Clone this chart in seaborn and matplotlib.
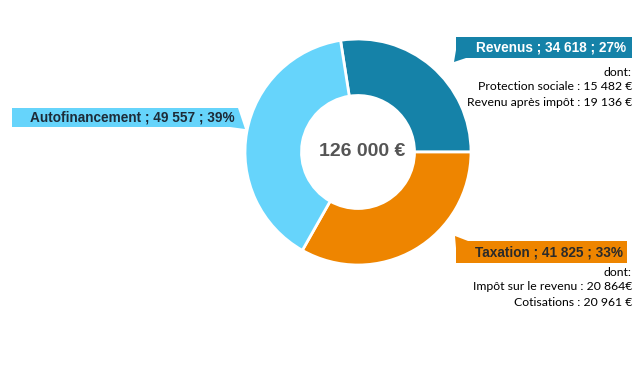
import matplotlib
matplotlib.use("Agg")
import matplotlib.pyplot as plt
import seaborn as sns
from matplotlib.patches import Rectangle, Polygon

sns.set_theme(style="white")
plt.rcParams['font.family'] = ['Liberation Sans', 'DejaVu Sans']

categories = ["Revenus", "Taxation", "Autofinancement"]
values = [34618, 41825, 49557]
percents = ["27%", "33%", "39%"]
value_labels = ["34 618", "41 825", "49 557"]
colors = ["#1582a8", "#ee8500", "#66d4fb"]
total_label = "126 000 €"
revenus_details = ["dont:", "Protection sociale : 15 482 €", "Revenu après impôt : 19 136 €"]
taxation_details = ["dont:", "Impôt sur le revenu : 20 864€", "Cotisations : 20 961 €"]

W, H = 640, 380
fig = plt.figure(figsize=(6.4, 3.8), dpi=100)
fig.patch.set_facecolor("white")

# pie axes
cx, cy, r = 358, 152, 113
ax = fig.add_axes([(cx - r) / W, (H - cy - r) / H, 2 * r / W, 2 * r / H])
ax.pie(values, colors=colors, startangle=98.9, counterclock=False, radius=1,
       wedgeprops=dict(width=0.5, edgecolor="white", linewidth=2))
ax.set_xlim(-1.0, 1.0)
ax.set_ylim(-1.0, 1.0)
ax.set_aspect("equal")
ax.axis("off")
ax.text(0.04, 0, total_label, ha="center", va="center", fontsize=14,
        fontweight="bold", color="#555555")

# overlay for labels
ov = fig.add_axes([0, 0, 1, 1])
ov.set_xlim(0, W)
ov.set_ylim(H, 0)
ov.axis("off")

def label_box(x0, x1, y0, y1, tail, color, text, tcolor, fs, pad):
    ov.add_patch(Rectangle((x0, y0), x1 - x0, y1 - y0, facecolor=color, edgecolor="none"))
    ov.add_patch(Polygon(tail, closed=True, facecolor=color, edgecolor="none"))
    ov.text(x1 - pad, (y0 + y1) / 2 + 0.5, text, ha="right", va="center", fontsize=fs,
            fontweight="bold", color=tcolor)

label_box(456, 632, 37, 58, [(456, 50), (454, 62), (466, 58)], colors[0],
          f"{categories[0]} ; {value_labels[0]} ; {percents[0]}", "white", 9.8, 6)
label_box(456, 627, 241, 263, [(456, 248), (455, 236), (468, 241)], colors[1],
          f"{categories[1]} ; {value_labels[1]} ; {percents[1]}", "#2a2a2a", 9.8, 4)
label_box(12, 238, 108, 127, [(230, 108), (238, 108), (245, 129), (230, 127)], colors[2],
          f"{categories[2]} ; {value_labels[2]} ; {percents[2]}", "#1d2b38", 9.8, 3)

for i, t in enumerate(revenus_details):
    ov.text(632, 72 + 15 * i, t, ha="right", va="center", fontsize=8.8,
            color="black", family=["Lato", "DejaVu Sans"])
for i, t in enumerate(taxation_details):
    ov.text(632, 272 + 15 * i, t, ha="right", va="center", fontsize=8.8,
            color="black", family=["Lato", "DejaVu Sans"])

fig.savefig("out.png", dpi=100, facecolor="white")
